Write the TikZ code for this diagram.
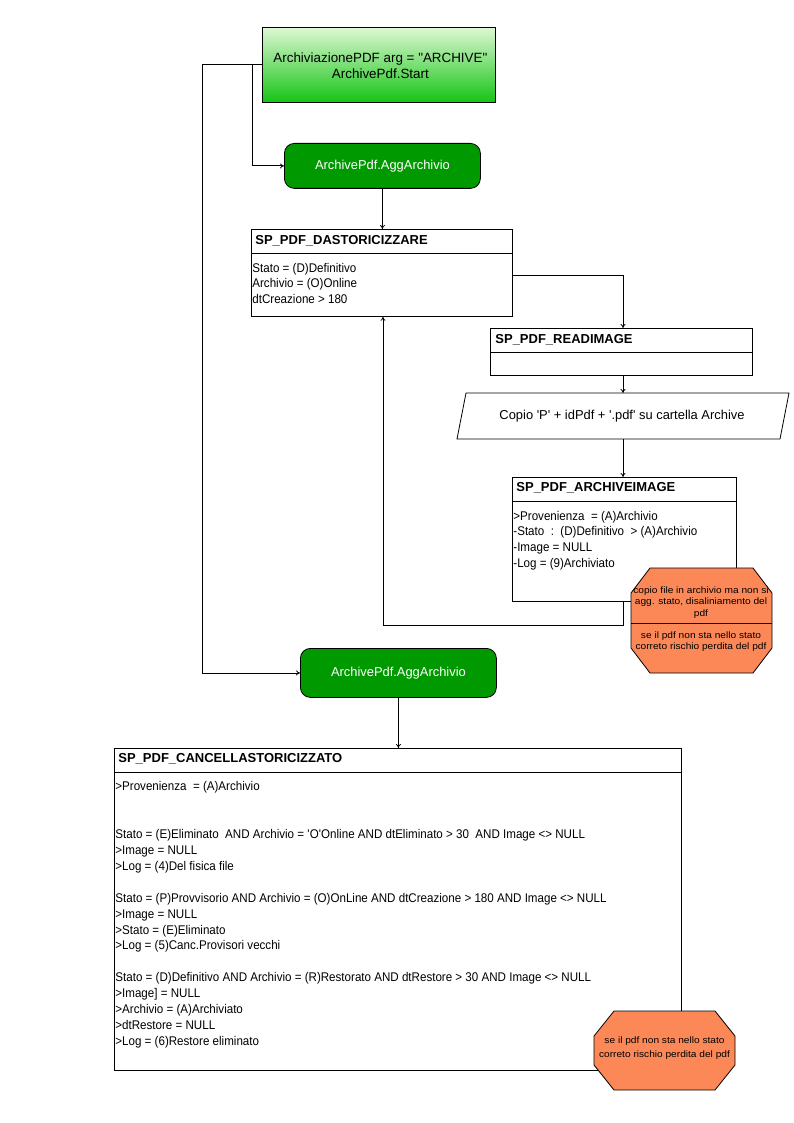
\documentclass[tikz,border=0pt]{standalone}
\usepackage{fontspec}
\setmainfont{Liberation Sans}
\newfontfamily\bodyfont[FakeStretch=0.92]{Liberation Sans}
\newfontfamily\notefont[FakeStretch=1.09]{Liberation Sans}
\usetikzlibrary{arrows.meta,calc}
\definecolor{startTop}{RGB}{222,248,212}
\definecolor{startBot}{RGB}{20,196,20}
\definecolor{aggGreen}{RGB}{0,153,0}
\definecolor{noteOrange}{RGB}{252,136,88}
\begin{document}
\begin{tikzpicture}[x=1pt,y=-1pt,line width=0.8pt,
  >={To[length=4pt,width=5pt]},
  box/.style={draw,rectangle,anchor=north west,inner sep=0pt},
  aggbox/.style={draw,rectangle,rounded corners=10pt,fill=aggGreen,anchor=north west,inner sep=0pt,
    minimum width=196pt},
  aggtxt/.style={text=white,inner sep=0pt,font=\fontsize{12.9}{15}\selectfont},
  title/.style={anchor=west,inner sep=0pt,font=\bfseries\fontsize{13}{15}\selectfont},
  body/.style={anchor=north west,inner sep=0pt,align=left,font=\bodyfont\fontsize{12.6}{15.7}\selectfont},
  notetxt/.style={align=center,inner sep=0pt,font=\notefont\fontsize{9.3}{11.5}\selectfont}]
\useasboundingbox (0,0) rectangle (794,1123);

% start
\node[box,top color=startTop,bottom color=startBot,minimum width=233pt,minimum height=75pt] (start) at (262,27) {};
\node[align=center,inner sep=0pt,font=\fontsize{13.4}{16}\selectfont] (starttxt) at ($(start.center)+(1.5,0.5)$)
  {ArchiviazionePDF arg = \textquotedbl ARCHIVE\textquotedbl\\ArchivePdf.Start};

% first agg
\node[aggbox,minimum height=45pt] (agg1) at (284,143) {};
\node[aggtxt] (agg1txt) at (agg1.center) {ArchivePdf.AggArchivio};

% DASTORICIZZARE
\node[box,minimum width=261pt,minimum height=87pt] (das) at (251,229) {};
\draw (das.north west) ++(0,24) coordinate (dasdl) -- (dasdl -| das.east);
\node[title] (dast) at (255,241) {SP\_PDF\_DASTORICIZZARE};
\node[body] (dasb) at (252,262.5) {Stato = (D)Definitivo\\Archivio = (O)Online\\dtCreazione > 180};

% READIMAGE
\node[box,minimum width=262pt,minimum height=47pt] (read) at (490,328) {};
\draw (read.north west) ++(0,24) coordinate (readdl) -- (readdl -| read.east);
\node[title] (readt) at (495,340) {SP\_PDF\_READIMAGE};

% parallelogram
\draw[fill=white] (466,393) -- (789,393) -- (780,439) -- (457,439) -- cycle;
\coordinate (paraT) at (623,393);
\coordinate (paraB) at (623,439);
\node[inner sep=0pt,font=\fontsize{12.9}{15}\selectfont] (para) at (622,416) {Copio \textquotesingle P\textquotesingle{} + idPdf + \textquotesingle.pdf\textquotesingle{} su cartella Archive};

% ARCHIVEIMAGE
\node[box,minimum width=224pt,minimum height=124pt] (arch) at (512,477) {};
\draw (arch.north west) ++(0,24) coordinate (archdl) -- (archdl -| arch.east);
\node[title] (archt) at (516,488) {SP\_PDF\_ARCHIVEIMAGE};
\node[body] (archb) at (513,510.5) {>Provenienza\ \ = (A)Archivio\\-Stato\ \ :\ \ (D)Definitivo\ \ > (A)Archivio\\-Image = NULL\\-Log = (9)Archiviato};

% second agg
\node[aggbox,minimum height=49pt] (agg2) at (300,648) {};
\node[aggtxt] (agg2txt) at (agg2.center) {ArchivePdf.AggArchivio};

% CANCELLASTORICIZZATO
\node[box,minimum width=567pt,minimum height=322pt] (canc) at (114,748) {};
\draw (canc.north west) ++(0,24) coordinate (cancdl) -- (cancdl -| canc.east);
\node[title] (canct) at (118,759) {SP\_PDF\_CANCELLASTORICIZZATO};
\node[body,font=\bodyfont\fontsize{12.6}{15.94}\selectfont] (cancb) at (115,781) {%
>Provenienza\ \ = (A)Archivio\\ \mbox{}\\ \mbox{}\\
Stato = (E)Eliminato\ \ AND Archivio = \textquotesingle O\textquotesingle Online AND dtEliminato > 30\ \ AND Image <> NULL\\
>Image = NULL\\
>Log = (4)Del fisica file\\ \mbox{}\\
Stato = (P)Provvisorio AND Archivio = (O)OnLine AND dtCreazione > 180 AND Image <> NULL\\
>Image = NULL\\
>Stato = (E)Eliminato\\
>Log = (5)Canc.Provisori vecchi\\ \mbox{}\\
Stato = (D)Definitivo AND Archivio = (R)Restorato AND dtRestore > 30 AND Image <> NULL\\
>Image] = NULL\\
>Archivio = (A)Archiviato\\
>dtRestore = NULL\\
>Log = (6)Restore eliminato};

% connectors
\draw[->] (start.west) -- ++(-10,0) |- (agg1.west);
\draw[->] (start.west) -- ++(-60,0) |- (agg2.west);
\draw[->] (agg1.south) -- (agg1.south |- das.north);
\draw[->] ($(das.north east)+(0,46)$) -| (read.north -| paraT);
\draw[->] (read.south -| paraT) -- (paraT);
\draw[->] (paraB) -- (paraB |- arch.north);
\coordinate (loopc) at (383,625);
\draw[->] (arch.south -| paraB) |- (loopc) -- (loopc |- das.south);
\draw[->] (agg2.south) -- (agg2.south |- canc.north);

% note 1
\draw[fill=noteOrange] (650,568) -- (753,568) -- (772,593) -- (772,648) -- (753,673) -- (650,673) -- (631,648) -- (631,593) -- cycle;
\draw (631,623) -- (772,623);
\node[notetxt] (n1a) at (701,602.5) {copio file in archivio ma non si\\agg. stato, disaliniamento del\\pdf};
\node[notetxt] (n1b) at (701,641.5) {se il pdf non sta nello stato\\correto rischio perdita del pdf};

% note 2
\draw[fill=noteOrange] (614,1011) -- (715,1011) -- (735,1036) -- (735,1065) -- (715,1090) -- (614,1090) -- (594,1065) -- (594,1036) -- cycle;
\node[notetxt,font=\notefont\fontsize{9.3}{14}\selectfont] (n2) at (664.5,1048) {se il pdf non sta nello stato\\correto rischio perdita del pdf};
\end{tikzpicture}
\end{document}
